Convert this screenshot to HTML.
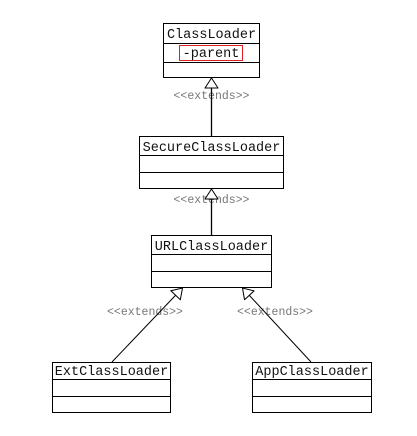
<!DOCTYPE html>
<html><head><meta charset="utf-8"><style>
html,body{margin:0;padding:0;background:#fff;}
svg{display:block;}
text{font-family:"Liberation Mono","Noto Serif CJK SC",monospace;}
.n{font-size:13.5px;fill:#111;}
.l{font-size:11.5px;fill:#777;}
</style></head><body>
<svg width="417" height="436" viewBox="0 0 417 436" xmlns="http://www.w3.org/2000/svg">
<defs>
<marker id="t" markerUnits="userSpaceOnUse" markerWidth="14" markerHeight="14" refX="11" refY="7" orient="auto">
<path d="M1,0.5 L11,7 L1,13.5 Z" fill="#fff" stroke="#000" stroke-width="1"/>
</marker>
</defs>
<g fill="none" stroke="#000" stroke-width="1">
<rect x="163.5" y="23.5" width="96" height="54"/>
<line x1="163.5" y1="43.5" x2="259.5" y2="43.5"/>
<line x1="163.5" y1="62.5" x2="259.5" y2="62.5"/>
<rect x="139.5" y="136.5" width="144" height="52"/>
<line x1="139.5" y1="155.5" x2="283.5" y2="155.5"/>
<line x1="139.5" y1="172.5" x2="283.5" y2="172.5"/>
<rect x="151.5" y="235.5" width="120" height="52"/>
<line x1="151.5" y1="254.5" x2="271.5" y2="254.5"/>
<line x1="151.5" y1="271.5" x2="271.5" y2="271.5"/>
<rect x="52.5" y="362.5" width="118" height="50"/>
<line x1="52.5" y1="379.5" x2="170.5" y2="379.5"/>
<line x1="52.5" y1="396.5" x2="170.5" y2="396.5"/>
<rect x="252.5" y="362.5" width="119" height="50"/>
<line x1="252.5" y1="379.5" x2="371.5" y2="379.5"/>
<line x1="252.5" y1="396.5" x2="371.5" y2="396.5"/>
</g>
<rect x="179.5" y="45.5" width="63" height="15" fill="none" stroke="#e02020" stroke-width="1"/>
<text class="l" x="211.5" y="99" text-anchor="middle">&lt;&lt;extends&gt;&gt;</text>
<text class="l" x="211.5" y="203" text-anchor="middle">&lt;&lt;extends&gt;&gt;</text>
<text class="l" x="145" y="315" text-anchor="middle">&lt;&lt;extends&gt;&gt;</text>
<text class="l" x="275" y="315" text-anchor="middle">&lt;&lt;extends&gt;&gt;</text>
<g stroke="#000" stroke-width="1" fill="none">
<line x1="211.5" y1="136" x2="211.5" y2="78" marker-end="url(#t)" stroke-width="1.3"/>
<line x1="211.5" y1="235" x2="211.5" y2="189" marker-end="url(#t)" stroke-width="1.3"/>
<line x1="112" y1="362" x2="182.5" y2="288" marker-end="url(#t)"/>
<line x1="311" y1="362" x2="242.5" y2="288" marker-end="url(#t)"/>
</g>
<text class="n" x="211.5" y="38" text-anchor="middle">ClassLoader</text>
<text class="n" x="211" y="57" text-anchor="middle">-parent</text>
<text class="n" x="211.5" y="151" text-anchor="middle">SecureClassLoader</text>
<text class="n" x="211.5" y="250" text-anchor="middle">URLClassLoader</text>
<text class="n" x="111.5" y="375" text-anchor="middle">ExtClassLoader</text>
<text class="n" x="312" y="375" text-anchor="middle">AppClassLoader</text>
</svg>
</body></html>
